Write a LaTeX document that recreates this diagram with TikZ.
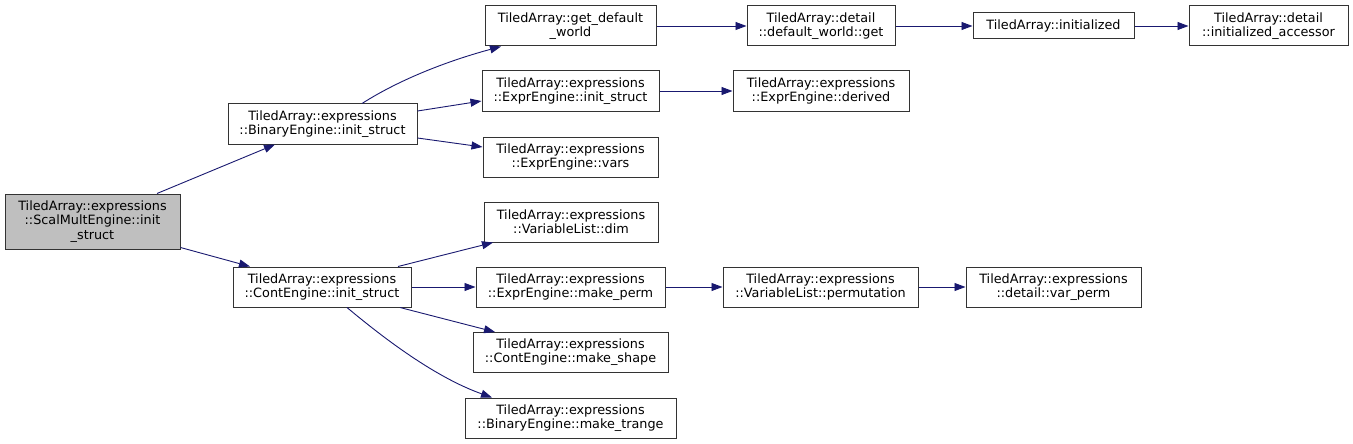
\documentclass[tikz,border=0pt]{standalone}
\usepackage{fontspec}
\setmainfont{DejaVu Sans}
\usetikzlibrary{arrows.meta}
\definecolor{edgecol}{HTML}{191970}
\definecolor{boxline}{HTML}{333333}
\tikzset{
  fn/.style={draw=boxline, line width=1pt, fill=white, inner sep=0pt, align=center,
    minimum height=40pt, font=\fontsize{12.8}{14.2}\selectfont},
  cur/.style={fn, fill=black!25},
  edge/.style={draw=edgecol, line width=0.9pt, -{Triangle[length=11pt,width=8pt]}},
}
\begin{document}
\begin{tikzpicture}[x=1pt,y=-1pt]
\useasboundingbox[fill=white] (0,0) rectangle (1353,444);

\node[cur, minimum width=175pt, minimum height=55pt] (scal) at (92.5,221.5) {TiledArray::expressions\\::ScalMultEngine::init\\\_struct};
\node[fn, minimum width=189pt] (bin) at (322.5,124) {TiledArray::expressions\\::BinaryEngine::init\_struct};
\node[fn, minimum width=178pt] (cont) at (322,287) {TiledArray::expressions\\::ContEngine::init\_struct};

\node[fn, minimum width=171pt] (gdw) at (570.5,26) {TiledArray::get\_default\\\_world};
\node[fn, minimum width=177pt] (eis) at (570.5,91) {TiledArray::expressions\\::ExprEngine::init\_struct};
\node[fn, minimum width=175pt] (vars) at (570.5,157) {TiledArray::expressions\\::ExprEngine::vars};
\node[fn, minimum width=174pt] (dim) at (571,222) {TiledArray::expressions\\::VariableList::dim};
\node[fn, minimum width=189pt] (mperm) at (570.5,287) {TiledArray::expressions\\::ExprEngine::make\_perm};
\node[fn, minimum width=195pt] (mshape) at (570.5,352.5) {TiledArray::expressions\\::ContEngine::make\_shape};
\node[fn, minimum width=211pt] (mtrange) at (570.5,418) {TiledArray::expressions\\::BinaryEngine::make\_trange};

\node[fn, minimum width=148pt] (dwg) at (821,26) {TiledArray::detail\\::default\_world::get};
\node[fn, minimum width=176pt] (derived) at (821,91) {TiledArray::expressions\\::ExprEngine::derived};
\node[fn, minimum width=195pt] (perm) at (820.5,287) {TiledArray::expressions\\::VariableList::permutation};

\node[fn, minimum width=161pt, minimum height=26pt] (init) at (1053.5,26) {TiledArray::initialized};
\node[fn, minimum width=175pt] (varperm) at (1053.5,287) {TiledArray::expressions\\::detail::var\_perm};
\node[fn, minimum width=159pt] (acc) at (1268.5,26) {TiledArray::detail\\::initialized\_accessor};

\draw[edge] ([xshift=64.5pt]scal.north) -- ([xshift=-47.5pt]bin.south);
\draw[edge] ([yshift=2pt]scal.south east) -- ([xshift=-72pt]cont.north);

\draw[edge] ([xshift=39.5pt]bin.north) .. controls (402,78) and (451,60) .. ([xshift=-69.5pt]gdw.south);
\draw[edge] ([yshift=13pt]bin.east) -- ([yshift=-10pt]eis.west);
\draw[edge] ([yshift=-14pt]bin.east) -- ([yshift=10pt]vars.west);

\draw[edge] ([xshift=76pt]cont.north) -- ([xshift=-78pt]dim.south);
\draw[edge] (cont.east) -- (mperm.west);
\draw[edge] ([xshift=78pt]cont.south) -- ([xshift=-75.5pt]mshape.north);
\draw[edge] ([xshift=25pt]cont.south) .. controls (387,341) and (437,378) .. ([xshift=-78.5pt]mtrange.north);

\draw[edge] (gdw.east) -- (dwg.west);
\draw[edge] (dwg.east) -- (init.west);
\draw[edge] (init.east) -- (acc.west);
\draw[edge] (eis.east) -- (derived.west);
\draw[edge] (mperm.east) -- (perm.west);
\draw[edge] (perm.east) -- (varperm.west);
\end{tikzpicture}
\end{document}
